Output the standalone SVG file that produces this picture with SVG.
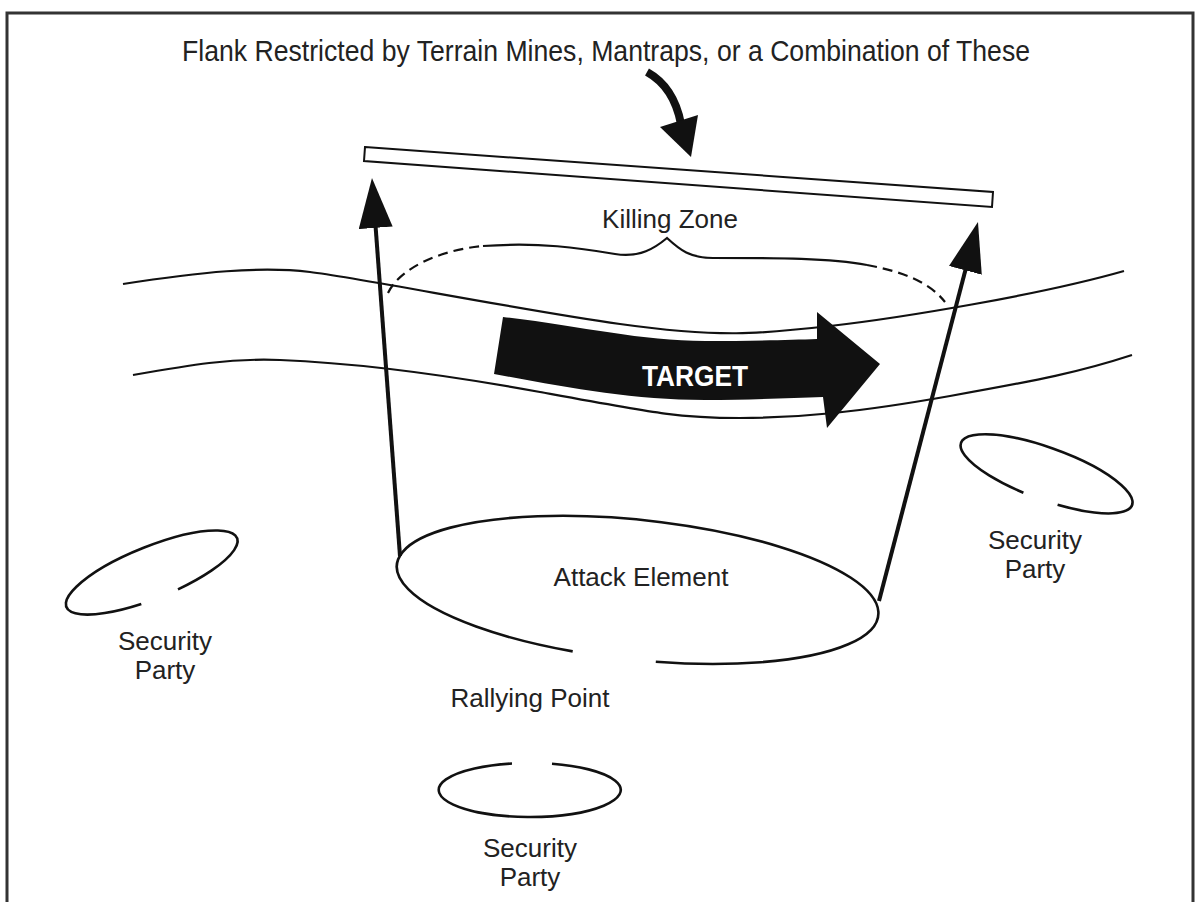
<svg xmlns="http://www.w3.org/2000/svg" width="1195" height="902" viewBox="0 0 1195 902">
  <style>
    .lbl { font-family: "Liberation Sans", Arial, sans-serif; font-size: 26px; fill: #222; text-anchor: middle; }
    .road { fill: none; stroke: #111; stroke-width: 2.2; }
    .ring { fill: none; stroke: #111; stroke-width: 2.6; }
    .flank { fill: none; stroke: #111; stroke-width: 4; marker-end: url(#head); }
    .dash { fill: none; stroke: #111; stroke-width: 2.2; stroke-dasharray: 10 6; }
  </style>
  <defs>
    <marker id="head" markerUnits="userSpaceOnUse" markerWidth="50" markerHeight="34" viewBox="0 0 50 34" refX="20" refY="17" orient="auto">
      <path d="M0,0 L50,17 L0,34 Z" fill="#111"/>
    </marker>
  </defs>

  <rect width="1195" height="902" fill="#fff"/>
  <!-- frame (open at the bottom) -->
  <path d="M7,902 V13 H1193 V902" fill="none" stroke="#333" stroke-width="3"/>

  <!-- road edges -->
  <g id="road">
    <path class="road" d="M123,284 C200,272 260,266 310,272 S520,310 620,324 S760,334 830,326 S1040,295 1124,271"/>
    <path class="road" d="M133,375 C190,365 230,358 280,360 S420,370 540,392 S680,418 740,418 S860,412 950,396 S1080,372 1132,355"/>
  </g>

  <!-- flank restriction bar -->
  <g id="flank-bar">
    <polygon points="365,147 993,192 992,207 364,161" fill="#fff" stroke="#111" stroke-width="2"/>
  </g>

  <!-- title with pointer -->
  <g id="flank-label">
    <text class="lbl" x="606" y="61" style="font-size:30px" textLength="848" lengthAdjust="spacingAndGlyphs">Flank Restricted by Terrain Mines, Mantraps, or a Combination of These</text>
    <path d="M647,72 Q674,87 681,124" fill="none" stroke="#111" stroke-width="8"/>
    <polygon points="660,127 698,115 691,157" fill="#111"/>
  </g>

  <!-- killing zone bracket -->
  <g id="killing-zone">
    <text class="lbl" x="670" y="228">Killing Zone</text>
    <path class="dash" d="M388,293 C400,268 440,250 483,246"/>
    <path class="road" d="M483,246 C540,242 580,248 615,254 C640,258 655,248 667,238 C680,250 690,258 713,258 C780,258 830,258 867,265"/>
    <path class="dash" d="M867,265 C905,272 930,283 945,302"/>
  </g>

  <!-- target direction arrow -->
  <g id="target">
    <path d="M503,317 C580,326 640,341 705,341 C750,341 790,340 817,339 L817,312 L880,364 L827,428 L823,397 C790,398 750,400 705,400 C630,400 565,387 494,374 Z" fill="#111"/>
    <text class="lbl" x="695" y="386" font-weight="bold" style="fill:#fff;font-size:29px" textLength="106" lengthAdjust="spacingAndGlyphs">TARGET</text>
  </g>

  <!-- attack element -->
  <g id="attack-element">
    <path class="ring" d="M572.7,651.4 A242,70 6 1 1 655.8,661.8"/>
    <text class="lbl" x="641" y="586">Attack Element</text>
  </g>

  <!-- rallying point -->
  <g id="rallying-point">
    <text class="lbl" x="530" y="707">Rallying Point</text>
  </g>

  <!-- security parties -->
  <g id="security-left">
    <path class="ring" d="M141.3,604 A92,26 -22 1 1 178,589.4"/>
    <text class="lbl" x="165" y="650">Security</text>
    <text class="lbl" x="165" y="679">Party</text>
  </g>
  <g id="security-right">
    <path class="ring" d="M1023.4,492.7 A91,26 20 1 1 1057.6,504.8"/>
    <text class="lbl" x="1035" y="549">Security</text>
    <text class="lbl" x="1035" y="578">Party</text>
  </g>
  <g id="security-bottom">
    <path class="ring" d="M552,763.8 A91,27 0 1 1 512,763.5"/>
    <text class="lbl" x="530" y="857">Security</text>
    <text class="lbl" x="530" y="886">Party</text>
  </g>

  <!-- flank movement arrows -->
  <g id="connectors">
    <path class="flank" d="M400,556 L374.2,207.9"/>
    <path class="flank" d="M879,601 L970.4,251"/>
  </g>
</svg>
